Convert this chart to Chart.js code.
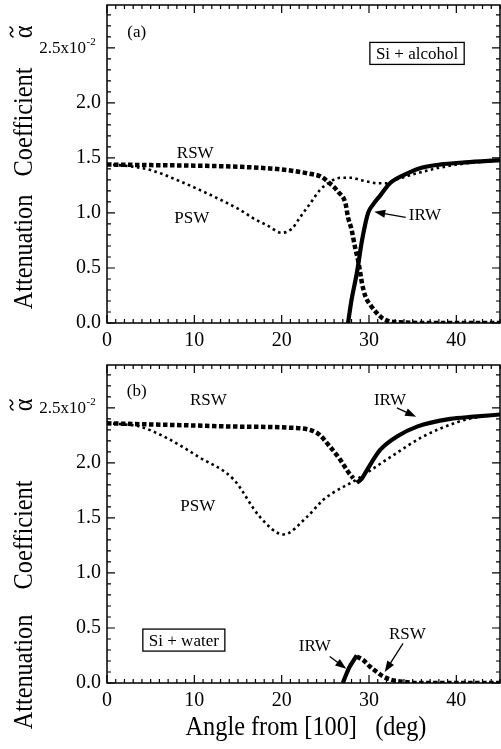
<!DOCTYPE html>
<html><head><meta charset="utf-8">
<script src="https://cdn.jsdelivr.net/npm/chart.js@4"></script>
<style>
html,body{margin:0;padding:0;background:#fff;width:501px;height:749px;overflow:hidden}
#wa{position:absolute;left:0;top:0;width:501px;height:350px}
#wb{position:absolute;left:0;top:350px;width:501px;height:399px}
</style></head><body>
<div id="wa"><canvas id="ca"></canvas></div>
<div id="wb"><canvas id="cb"></canvas></div>
<script>
// ---- axis ticks ----
const xTickValues = [0, 10, 20, 30, 40];
const yTickValues = [0, 0.5, 1.0, 1.5, 2.0, 2.5];

// ---- panel (a): Si + alcohol ----
const rswA_x = [0, 5, 10, 15, 20, 23, 24.5, 25.5, 26.5, 27.3, 27.6, 28.0, 28.4, 28.8, 29.2, 29.6, 30.2, 30.9, 31.6, 32.4, 34, 37, 45];
const rswA_y = [1.44, 1.435, 1.43, 1.42, 1.395, 1.36, 1.33, 1.27, 1.19, 1.09, 0.96, 0.85, 0.69, 0.55, 0.36, 0.24, 0.16, 0.09, 0.04, 0.015, 0.005, 0, 0];
const pswA_x = [0, 2, 5, 8, 10.6, 13, 15.2, 17, 18.3, 20, 21.2, 22.1, 23.3, 24.4, 25.5, 26.7, 28, 29, 30.1, 31, 32, 33, 35, 38, 41, 45];
const pswA_y = [1.44, 1.43, 1.39, 1.30, 1.21, 1.12, 1.03, 0.94, 0.89, 0.82, 0.86, 0.96, 1.09, 1.21, 1.28, 1.32, 1.32, 1.30, 1.28, 1.27, 1.27, 1.30, 1.35, 1.41, 1.45, 1.475];
const irwA_x = [27.6, 28.0, 28.6, 29.2, 29.9, 30.5, 31.3, 32.4, 34.4, 36, 38.1, 41, 45];
const irwA_y = [0, 0.21, 0.45, 0.75, 1.0, 1.08, 1.16, 1.27, 1.36, 1.41, 1.44, 1.46, 1.48];

// ---- panel (b): Si + water ----
const rswB_x = [0, 5, 10, 15, 21, 24.1, 25.5, 26.7, 27.6, 28.2];
const rswB_y = [2.36, 2.35, 2.34, 2.33, 2.32, 2.27, 2.15, 2.03, 1.92, 1.86];
const pswB_x = [0, 2, 3.8, 7, 10.6, 14.5, 17.5, 20.2, 22.9, 24.7, 25.9, 28.6, 30.5, 32.4, 36.2, 40.1, 42, 45];
const pswB_y = [2.36, 2.35, 2.33, 2.22, 2.05, 1.85, 1.51, 1.35, 1.51, 1.66, 1.73, 1.85, 1.95, 2.05, 2.24, 2.37, 2.41, 2.44];
const irwB_x = [28.6, 29.2, 29.8, 31.3, 33.2, 35.5, 39.3, 42, 45];
const irwB_y = [1.82, 1.86, 1.94, 2.12, 2.24, 2.33, 2.40, 2.42, 2.44];
const irwB2_x = [27.0, 27.4, 27.8, 28.2, 28.6];
const irwB2_y = [0, 0.08, 0.15, 0.2, 0.25];
const rswB2_x = [28.6, 29.3, 30.1, 30.9, 31.6, 32.5, 34, 36, 45];
const rswB2_y = [0.24, 0.21, 0.15, 0.10, 0.06, 0.03, 0.01, 0, 0];

// ---- annotations (data coordinates) ----
const textA = [
  {t: '(a)', x: 3.4, y: 2.64},
  {t: 'RSW', x: 10.1, y: 1.54},
  {t: 'PSW', x: 9.7, y: 0.95},
  {t: 'IRW', x: 36.4, y: 0.98}
];
const boxA = [{t: 'Si + alcohol', x: 35.5, y: 2.45}];
const arrowsA = [{x1: 34.2, y1: 0.96, x2: 30.6, y2: 1.01}];

const textB = [
  {t: '(b)', x: 3.4, y: 2.65},
  {t: 'RSW', x: 11.6, y: 2.57},
  {t: 'PSW', x: 10.4, y: 1.6},
  {t: 'IRW', x: 32.4, y: 2.57},
  {t: 'IRW', x: 23.8, y: 0.33},
  {t: 'RSW', x: 34.4, y: 0.44}
];
const boxB = [{t: 'Si + water', x: 8.8, y: 0.39}];
const arrowsB = [
  {x1: 33.2, y1: 2.5, x2: 35.4, y2: 2.42},
  {x1: 25.5, y1: 0.24, x2: 27.4, y2: 0.13},
  {x1: 33.9, y1: 0.36, x2: 31.8, y2: 0.10}
];

const SERIF = "'Liberation Serif', 'Times New Roman', serif";

function pts(xs, ys) { return xs.map((x, i) => ({x: x, y: ys[i]})); }

function rsw(xs, ys) {
  return {data: pts(xs, ys), borderColor: '#000', borderWidth: 4.5, borderDash: [4.5, 2.5],
    pointRadius: 0, showLine: true, cubicInterpolationMode: 'monotone', fill: false};
}
function psw(xs, ys) {
  return {data: pts(xs, ys), borderColor: '#000', borderWidth: 2.6, borderDash: [2.6, 3.4],
    pointRadius: 0, showLine: true, cubicInterpolationMode: 'monotone', fill: false};
}
function irw(xs, ys) {
  return {data: pts(xs, ys), borderColor: '#000', borderWidth: 4.2,
    pointRadius: 0, showLine: true, cubicInterpolationMode: 'monotone', fill: false};
}

function arrow(ctx, x1, y1, x2, y2) {
  ctx.save();
  ctx.strokeStyle = '#000'; ctx.fillStyle = '#000'; ctx.lineWidth = 1.3;
  const a = Math.atan2(y2 - y1, x2 - x1);
  const L = 11, W = 4;
  ctx.beginPath(); ctx.moveTo(x1, y1); ctx.lineTo(x2 - L * 0.8 * Math.cos(a), y2 - L * 0.8 * Math.sin(a)); ctx.stroke();
  ctx.beginPath();
  ctx.moveTo(x2, y2);
  ctx.lineTo(x2 - L * Math.cos(a) + W * Math.sin(a), y2 - L * Math.sin(a) - W * Math.cos(a));
  ctx.lineTo(x2 - L * Math.cos(a) - W * Math.sin(a), y2 - L * Math.sin(a) + W * Math.cos(a));
  ctx.closePath(); ctx.fill();
  ctx.restore();
}

// yTitle: canvas y-centres of the words "Attenuation", "Coefficient" and the alpha
function makeDecor(texts, boxes, arrows, showXTitle, yTitle) {
  return {
    id: 'decor',
    afterDraw(chart) {
      const ctx = chart.ctx, a = chart.chartArea, xs = chart.scales.x, ys = chart.scales.y;
      ctx.save();
      // frame
      ctx.strokeStyle = '#000'; ctx.lineWidth = 1.5;
      ctx.strokeRect(a.left, a.top, a.right - a.left, a.bottom - a.top);
      // inward ticks
      ctx.lineWidth = 1.2;
      ctx.beginPath();
      for (let v = 0; v <= 45; v += 1) {
        const px = xs.getPixelForValue(v);
        const len = (v % 10 === 0) ? 8 : 4;
        ctx.moveTo(px, a.bottom); ctx.lineTo(px, a.bottom - len);
        ctx.moveTo(px, a.top); ctx.lineTo(px, a.top + len);
      }
      for (let k = 0; k <= 28; k++) {
        const v = k / 10;
        const py = ys.getPixelForValue(v);
        const len = (k % 5 === 0) ? 8 : 4;
        ctx.moveTo(a.left, py); ctx.lineTo(a.left + len, py);
        ctx.moveTo(a.right, py); ctx.lineTo(a.right - len, py);
      }
      ctx.stroke();
      // special 2.5x10^-2 tick label
      ctx.fillStyle = '#000';
      const p25 = ys.getPixelForValue(2.5);
      ctx.font = '17px ' + SERIF; ctx.textAlign = 'right'; ctx.textBaseline = 'middle';
      ctx.fillText('2.5x10', 86, p25 + 1);
      ctx.font = '11px ' + SERIF; ctx.textAlign = 'left';
      ctx.fillText('-2', 86.5, p25 - 6);
      // y title (rotated words)
      ctx.font = '27px ' + SERIF; ctx.textAlign = 'center'; ctx.textBaseline = 'middle';
      const words = ['Attenuation', 'Coefficient', '\u03B1'];
      words.forEach((w, i) => {
        ctx.save();
        ctx.translate(25, yTitle[i]);
        ctx.rotate(-Math.PI / 2);
        ctx.scale(0.9, 1);
        ctx.fillText(w, 0, 0);
        if (i === 2) {
          // tilde over alpha
          ctx.lineWidth = 1.5;
          ctx.beginPath();
          ctx.moveTo(-6, -11.5);
          ctx.bezierCurveTo(-3, -16, -1, -15, 0, -13.5);
          ctx.bezierCurveTo(1, -12, 3, -11, 6, -15.5);
          ctx.stroke();
        }
        ctx.restore();
      });
      // x title
      if (showXTitle) {
        ctx.save();
        ctx.font = '27px ' + SERIF; ctx.textAlign = 'center'; ctx.textBaseline = 'middle';
        ctx.translate(306, chart.height - 21);
        ctx.scale(0.9, 1);
        ctx.fillText('Angle from [100]   (deg)', 0, 0);
        ctx.restore();
      }
      // texts
      ctx.font = '17px ' + SERIF; ctx.textAlign = 'center'; ctx.textBaseline = 'middle';
      texts.forEach(o => ctx.fillText(o.t, xs.getPixelForValue(o.x), ys.getPixelForValue(o.y)));
      boxes.forEach(o => {
        const px = xs.getPixelForValue(o.x), py = ys.getPixelForValue(o.y);
        const w = ctx.measureText(o.t).width + 12, h = 22;
        ctx.lineWidth = 1.3;
        ctx.strokeRect(px - w / 2, py - h / 2, w, h);
        ctx.fillText(o.t, px, py + 1);
      });
      arrows.forEach(o => arrow(ctx, xs.getPixelForValue(o.x1), ys.getPixelForValue(o.y1),
                                     xs.getPixelForValue(o.x2), ys.getPixelForValue(o.y2)));
      ctx.restore();
    }
  };
}

function makeOptions(xAxisHeight, topPad) {
  return {
    responsive: true, maintainAspectRatio: false, animation: false,
    layout: {padding: {left: 0, right: 1, top: topPad, bottom: 0}},
    plugins: {legend: {display: false}, tooltip: {enabled: false}},
    scales: {
      x: {
        type: 'linear', min: 0, max: 45,
        afterBuildTicks: s => { s.ticks = xTickValues.map(v => ({value: v})); },
        afterFit: s => { s.height = xAxisHeight; s.paddingLeft = 0; s.paddingRight = 0; },
        grid: {display: false, drawTicks: false}, border: {display: false},
        ticks: {color: '#000', font: {family: SERIF, size: 20}, padding: 6, maxRotation: 0, autoSkip: false,
                callback: v => String(v)}
      },
      y: {
        type: 'linear', min: 0, max: 2.89,
        afterBuildTicks: s => { s.ticks = yTickValues.map(v => ({value: v})); },
        afterFit: s => { s.width = 107; s.paddingTop = 0; s.paddingBottom = 0; },
        grid: {display: false, drawTicks: false}, border: {display: false},
        ticks: {color: '#000', font: {family: SERIF, size: 20}, padding: 6,
                callback: v => (Math.abs(v - 2.5) < 1e-6 ? '' : v.toFixed(1))}
      }
    }
  };
}

new Chart(document.getElementById('ca'), {
  type: 'scatter',
  data: {datasets: [rsw(rswA_x, rswA_y), psw(pswA_x, pswA_y), irw(irwA_x, irwA_y)]},
  options: makeOptions(27, 5),
  plugins: [makeDecor(textA, boxA, arrowsA, false, [252, 122, 32])]
});

new Chart(document.getElementById('cb'), {
  type: 'scatter',
  data: {datasets: [rsw(rswB_x, rswB_y), psw(pswB_x, pswB_y), irw(irwB_x, irwB_y),
                    irw(irwB2_x, irwB2_y), rsw(rswB2_x, rswB2_y)]},
  options: makeOptions(66, 15),
  plugins: [makeDecor(textB, boxB, arrowsB, true, [672 - 350, 535 - 350, 405 - 350])]
});
</script>
</body></html>
